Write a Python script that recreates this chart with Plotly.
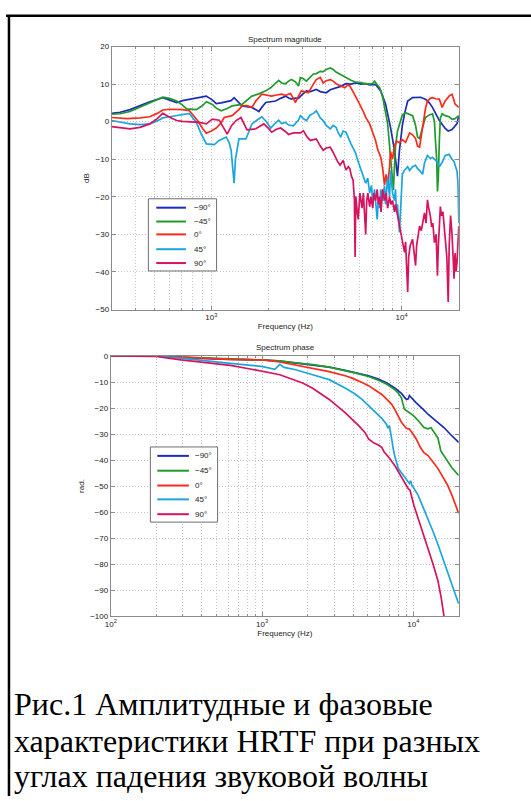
import math
import plotly.graph_objects as go

W, H = 531, 801

# ---------------- data ----------------
series_names = ["−90°", "−45°", "0°", "45°", "90°"]
series_colors = ["#1c2db5", "#1f9a2b", "#fb2b1c", "#1ba5df", "#d8125f"]

# Spectrum magnitude (Hz, dB)
mag_f_m90 = [300, 332, 374, 422, 475, 556, 604, 658, 706, 768, 835, 942, 1012, 1062, 1127, 1197, 1271, 1318, 1398, 1450,
             1540, 1635, 1715, 1778, 1843, 1933, 2052, 2180, 2315, 2456, 2550, 2640, 2770, 2873, 2975, 3162, 3315, 3564,
             3740, 4017, 4220, 4527, 4790, 5102, 5420, 5750, 6120, 6480, 6800, 7300, 7770, 8240, 8750, 9180, 9400, 9520,
             9750, 10100, 10370, 10770, 11430, 11850, 12590, 13360, 14000, 14540, 15800, 16960, 17590, 18420, 19110,
             19570, 20000]
mag_db_m90 = [2.2, 2.5, 3.2, 4.3, 5.3, 6.4, 5.8, 5.1, 5.6, 6.0, 6.2, 6.8, 5.8, 4.8, 5.0, 5.3, 5.6, 6.4, 5.2, 4.2,
              4.0, 3.8, 3.2, 2.7, 3.8, 5.1, 5.3, 5.5, 6.2, 6.8, 6.3, 6.0, 6.3, 6.2, 7.0, 8.2, 8.0, 8.6,
              8.0, 7.7, 8.5, 9.0, 9.4, 10.1, 10.0, 10.3, 10.0, 10.1, 9.8, 9.9, 8.2, 4.7, -1.5, -7.6, -13.5, -14.5,
              -7.6, -1.0, 2.1, 5.5, 6.4, 6.4, 6.5, 6.0, 5.0, 3.8, 0.3, -1.8, -2.5, -2.1, -1.1,
              -0.5, 1.6]

mag_f_m45 = [300, 332, 374, 422, 475, 556, 604, 658, 706, 741, 835, 900, 942, 1012, 1062, 1127, 1212, 1286, 1450, 1540,
             1635, 1778, 1933, 2052, 2180, 2260, 2343, 2456, 2550, 2640, 2770, 2873, 2940, 3050, 3162, 3315, 3440, 3564,
             3740, 3875, 4017, 4220, 4370, 4527, 4790, 5102, 5420, 5750, 6120, 6480, 6800, 7060, 7210, 7450, 7680, 7960,
             8140, 8450, 8750, 8970, 9060, 9180, 9290, 9520, 9860, 10100, 10500, 10900, 11430, 11850, 12140, 12440,
             12590, 12900, 13360, 14000, 14540, 14890, 15070, 15300, 15440, 15610, 15800, 16000, 16350, 16960, 17770,
             18420, 19110, 19570, 20000]
mag_db_m45 = [2.0, 2.1, 2.7, 3.8, 5.0, 6.5, 6.2, 5.5, 4.4, 3.4, 3.2, 4.3, 5.3, 4.6, 3.6, 2.9, 3.5, 4.2, 4.6, 5.6,
              6.8, 7.4, 8.2, 9.0, 10.1, 11.0, 10.3, 10.1, 10.8, 11.2, 10.6, 9.5, 11.7, 11.4, 10.8, 11.8, 12.7, 12.8,
              13.4, 13.3, 13.9, 14.3, 13.9, 13.2, 12.5, 11.7, 11.0, 10.5, 10.4, 10.1, 10.0, 10.2, 10.8, 9.8, 9.0, 6.5,
              3.8, -0.5, -9.4, -17.3, -18.2, -12.0, -6.8, -2.5, 0.3, 1.8, 2.4, 2.0, 1.6, -1.0, -4.1, -4.5,
              -3.2, -1.5, 1.1, 1.8, 2.1, 0.0, -5.0, -10.0, -18.6, -14.7, -5.0, 1.0, 2.1, 1.6, 1.3,
              0.6, 0.8, 1.2, 1.6]

mag_f_0 = [300, 332, 361, 422, 475, 520, 556, 604, 658, 706, 768, 846, 900, 942, 1000, 1062, 1127, 1169, 1286, 1398,
           1450, 1540, 1635, 1715, 1843, 1960, 2077, 2200, 2343, 2456, 2610, 2700, 2770, 2873, 2975, 3100, 3240, 3440,
           3564, 3740, 3875, 4017, 4220, 4370, 4527, 4790, 5040, 5200, 5350, 5560, 5750, 6000, 6270, 6500, 6800, 7060,
           7300, 7500, 7770, 7960, 8140, 8300, 8450, 8650, 8750, 8970, 9180, 9400, 9750, 10100, 10500, 11030, 11430,
           11850, 12140, 12440, 12900, 13360, 13680, 14180, 14540, 15070, 15800, 16350, 16960, 17770, 18420, 18870,
           19110, 19570, 20000]
mag_db_0 = [1.1, 1.0, 0.8, 1.0, 1.3, 2.2, 3.1, 3.3, 3.3, 3.2, 2.9, 0.3, -1.8, -3.1, -2.5, -1.7, -0.3, 1.1, 1.6, 3.2,
            4.2, 4.3, 3.8, 5.5, 7.3, 7.0, 6.8, 7.1, 7.3, 7.0, 7.5, 6.2, 5.1, 6.8, 8.2, 8.0, 7.7, 10.0,
            11.2, 11.8, 10.3, 10.9, 11.2, 10.8, 10.1, 9.5, 9.0, 9.7, 9.5, 8.0, 6.4, 4.8, 2.9, 1.0, -0.6, -2.8,
            -5.0, -7.5, -9.4, -12.5, -16.8, -14.0, -17.0, -12.0, -8.0, -10.0, -6.5, -5.2, -5.6, -4.8, -5.5, -3.0, -3.5,
            -4.5, -6.5, -6.8, -1.0, 3.5, 5.5, 6.2, 6.4, 6.1, 6.0, 3.8, 5.5, 6.8, 7.3, 5.8,
            4.7, 4.2, 3.8]

mag_f_45 = [300, 332, 374, 422, 475, 520, 556, 604, 658, 706, 768, 800, 835, 880, 942, 1037, 1100, 1197, 1240, 1271,
            1300, 1318, 1340, 1398, 1521, 1580, 1635, 1750, 1843, 1950, 2052, 2180, 2260, 2343, 2456, 2550, 2700, 2873,
            2940, 3050, 3162, 3315, 3440, 3564, 3740, 3875, 4017, 4220, 4370, 4527, 4650, 4790, 4930, 5102, 5250, 5420,
            5560, 5750, 5900, 6120, 6300, 6480, 6640, 6800, 6950, 7060, 7210, 7300, 7450, 7560, 7680, 7770, 7960, 8140,
            8240, 8450, 8650, 8750, 8970, 9180, 9290, 9400, 9520, 9750, 9860, 9980, 10100, 10370, 10770, 11030, 11430,
            11850, 12140, 12440, 12900, 13200, 13680, 14180, 14540, 14890, 15440, 15800, 16350, 16960, 17770, 18420,
            18870, 19110, 19570, 19800, 20000]
mag_db_45 = [0.3, -0.2, -0.6, -0.8, -0.6, 0.2, 1.0, 1.3, 1.6, 1.9, 2.2, 1.0, -0.2, -3.0, -5.9, -6.1, -5.0, -4.1, -5.5, -7.6,
             -12.0, -16.4, -10.0, -4.6, -4.6, -2.5, -0.6, 0.5, 1.3, 0.0, -1.7, -0.3, 0.4, -0.5, -0.2, -0.9, -1.1, 0.4,
             1.6, 0.8, 0.3, 1.8, 2.2, 2.9, 1.0, 0.3, -1.0, -1.9, -1.0, -1.5, -3.0, -4.1, -2.5, -2.8, -4.5, -5.9,
             -7.0, -8.5, -10.5, -12.9, -14.5, -16.4, -15.0, -19.0, -17.0, -22.0, -18.0, -21.0, -26.0, -20.0, -23.0, -18.0, -21.0, -17.0,
             -22.0, -15.0, -20.0, -13.0, -19.0, -21.0, -18.0, -24.0, -22.0, -29.5, -25.0, -18.0, -14.0, -12.9, -12.0, -13.0, -12.0,
             -11.6, -12.5, -13.0, -14.0, -11.0, -9.0, -9.8, -9.5, -10.0, -10.8, -12.0, -10.8, -9.0, -8.7, -10.0,
             -10.6, -11.5, -13.2, -16.5, -27.0]

mag_f_90 = [300, 332, 374, 422, 475, 520, 556, 604, 658, 706, 768, 866, 942, 1012, 1101, 1160, 1212, 1280, 1350, 1433,
            1480, 1540, 1715, 1888, 2000, 2077, 2200, 2315, 2450, 2550, 2700, 2873, 2950, 3050, 3162, 3315, 3440, 3564,
            3740, 3875, 4017, 4220, 4350, 4470, 4600, 4750, 4930, 5102, 5250, 5350, 5450, 5560, 5650, 5700, 5750, 5850,
            5920, 6040, 6120, 6200, 6300, 6400, 6480, 6560, 6650, 6800, 6900, 7060, 7150, 7300, 7450, 7560, 7680, 7800,
            7960, 8140, 8300, 8450, 8650, 8800, 8970, 9180, 9290, 9400, 9520, 9750, 9860, 10000, 10200, 10370, 10500,
            10770, 10900, 11100, 11430, 11600, 11850, 12000, 12290, 12440, 12700, 13000, 13200, 13450, 13680, 13900,
            14180, 14400, 14600, 14890, 15200, 15440, 15610, 16000, 16200, 16500, 16700, 16960, 17300, 17590, 17800,
            18100, 18420, 18700, 18870, 19110, 19350, 19570, 19800, 20000]
mag_db_90 = [-1.3, -1.6, -1.9, -1.5, -0.6, 0.8, 2.2, 1.2, 0.3, 0.1, 0.0, -0.2, -0.6, 0.7, 0.4, -1.5, -3.3, -1.0, 0.3, 1.1,
             -0.5, -2.2, -1.9, -0.6, -1.8, -2.8, -2.0, -1.7, -2.6, -3.4, -3.0, -3.1, -3.0, -2.4, -3.8, -5.0, -4.8, -4.6,
             -6.5, -7.6, -7.0, -6.8, -8.0, -9.4, -10.5, -11.6, -10.3, -12.9, -12.0, -12.5, -14.5, -15.5, -20.5, -36.0, -19.9, -24.0,
             -26.0, -19.0, -21.0, -23.0, -19.0, -24.0, -30.0, -21.0, -19.0, -22.6, -20.0, -23.0, -19.0, -21.0, -18.0, -22.0, -20.0, -24.0,
             -18.0, -21.0, -19.0, -23.0, -20.0, -22.0, -21.0, -24.0, -22.0, -23.4, -25.0, -27.8, -29.5, -31.3, -33.0, -34.8, -32.0,
             -45.3, -36.0, -33.0, -31.3, -35.0, -38.3, -33.0, -30.0, -27.8, -29.0, -26.0, -24.3, -27.0, -20.8, -23.0,
             -25.2, -28.0, -27.0, -32.2, -30.0, -41.0, -33.0, -22.6, -25.0, -24.0, -27.0, -31.3, -36.0, -48.0, -33.0,
             -25.0, -30.0, -37.0, -41.8, -35.0, -40.0, -37.4, -32.0, -27.8]

# Spectrum phase (Hz, rad.)
ph_f_m90 = [100, 150, 200, 291, 370, 479, 617, 785, 1013, 1310, 1670, 2160, 2780, 3540, 4100, 5060, 5880, 6640, 7540,
            8350, 9000, 9260, 9420, 9700, 10460, 11770, 12500, 14560, 15950, 17500, 19950]
ph_m90 = [0, 0, 0, -0.5, -0.9, -1.1, -1.3, -1.4, -1.5, -2.0, -2.8, -3.5, -4.3, -5.5, -6.3, -7.6, -8.9, -10.3, -12.3,
          -14.4, -16.7, -16.5, -15.2, -16.0, -18.0, -20.8, -22.4, -25.6, -27.5, -30.0, -33.2]

ph_f_m45 = [100, 200, 291, 370, 479, 617, 785, 1013, 1310, 1670, 2160, 2780, 3540, 4100, 5060, 5880, 6640, 7540, 7960,
            8350, 8550, 8730, 9420, 10100, 10760, 11770, 12500, 13100, 13800, 14560, 15200, 15950, 16860, 18000, 19950]
ph_m45 = [0, 0, -0.4, -0.7, -0.9, -1.1, -1.3, -1.5, -1.9, -2.6, -3.3, -4.3, -5.6, -6.5, -7.9, -9.3, -10.8, -12.9, -14.3,
          -16.1, -18.5, -20.5, -21.8, -23.1, -24.8, -27.5, -28.0, -27.6, -29.5, -31.6, -36.5, -38.5, -40.8, -43.0, -45.9]

ph_f_0 = [100, 200, 291, 370, 479, 617, 785, 1013, 1310, 1670, 2160, 2780, 3540, 3940, 4580, 5060, 5560, 6190, 6640,
          7200, 7540, 7960, 8350, 8730, 9000, 9420, 9700, 10460, 11100, 11770, 12500, 13500, 14560, 15500, 16860,
          18000, 19000, 19950]
ph_0 = [0, 0, -0.4, -0.8, -1.0, -1.3, -1.4, -1.5, -2.3, -3.4, -4.6, -6.0, -7.6, -8.5, -10.2, -11.4, -13.0, -14.8, -16.5,
        -18.6, -20.5, -23.1, -25.5, -26.9, -27.8, -28.1, -29.0, -31.9, -35.0, -37.2, -38.3, -40.8, -43.3, -46.0, -49.7,
        -53.5, -57.0, -60.5]

ph_f_45 = [100, 200, 291, 370, 479, 617, 785, 1013, 1215, 1260, 1310, 1400, 1670, 2160, 2780, 3540, 4100, 4580, 5060,
           5560, 6190, 6640, 6800, 6950, 7100, 7250, 7370, 7540, 7960, 8730, 9420, 9600, 9790, 10760, 11600, 12500,
           13500, 14560, 15600, 16860, 18300, 19950]
ph_45 = [0, 0, -0.8, -1.5, -2.2, -2.8, -3.4, -4.1, -5.1, -4.2, -3.2, -4.4, -5.3, -7.2, -9.1, -12.3, -14.5, -16.7, -19.0,
         -21.2, -24.0, -26.2, -27.8, -26.8, -29.5, -33.0, -35.7, -38.5, -43.3, -46.5, -49.0, -48.0, -49.7, -53.5, -58.0, -62.4,
         -67.5, -72.5, -77.5, -82.6, -88.5, -95.3]

ph_f_90 = [100, 150, 200, 291, 370, 479, 617, 785, 1013, 1310, 1854, 2160, 2780, 3540, 4370, 4800, 5060, 5500, 5880,
           6190, 6400, 6900, 7540, 8350, 9000, 9260, 9500, 9700, 10100, 10760, 11600, 12500, 13500, 14560, 15300, 15950]
ph_90 = [0, 0, -0.2, -1.5, -2.2, -2.8, -3.6, -4.7, -5.9, -7.2, -10.4, -12.4, -16.7, -21.8, -26.9, -29.5, -31.9, -33.5, -34.2,
         -35.1, -36.8, -39.0, -42.1, -46.5, -49.5, -51.0, -51.5, -54.0, -57.5, -62.4, -68.0, -73.8, -80.0, -86.5, -93.0, -100.0]

mag_series = [(mag_f_m90, mag_db_m90), (mag_f_m45, mag_db_m45), (mag_f_0, mag_db_0),
              (mag_f_45, mag_db_45), (mag_f_90, mag_db_90)]
ph_series = [(ph_f_m90, ph_m90), (ph_f_m45, ph_m45), (ph_f_0, ph_0), (ph_f_45, ph_45), (ph_f_90, ph_90)]

mag_yticks = [-50, -40, -30, -20, -10, 0, 10, 20]
ph_yticks = [-100, -90, -80, -70, -60, -50, -40, -30, -20, -10, 0]
mag_xticks = [1000, 10000]
mag_xticktext = ["10<sup>3</sup>", "10<sup>4</sup>"]
ph_xticks = [100, 1000, 10000]
ph_xticktext = ["10<sup>2</sup>", "10<sup>3</sup>", "10<sup>4</sup>"]
mag_minor = [400, 500, 600, 700, 800, 900, 2000, 3000, 4000, 5000, 6000, 7000, 8000, 9000]
ph_minor = [200, 300, 400, 500, 600, 700, 800, 900, 2000, 3000, 4000, 5000, 6000, 7000, 8000, 9000]

caption_lines = ["Рис.1 Амплитудные и фазовые",
                 "характеристики HRTF при разных",
                 "углах падения звуковой волны"]


# ---------------- figure ----------------
def px(x):
    return x / W


def py(y):
    return 1 - y / H


fig = go.Figure()
for i, (f, v) in enumerate(mag_series):
    fig.add_trace(go.Scatter(x=f, y=v, mode="lines", name=series_names[i], showlegend=False,
                             line=dict(color=series_colors[i], width=1.7), xaxis="x", yaxis="y"))
for i, (f, v) in enumerate(ph_series):
    fig.add_trace(go.Scatter(x=f, y=v, mode="lines", name=series_names[i], showlegend=False,
                             line=dict(color=series_colors[i], width=1.7), xaxis="x2", yaxis="y2"))

AX = "#8a8a8a"
GRID = "#c4c4c4"
DOT = "1px,2px"
TF = dict(family="Liberation Sans, Arial", size=8, color="#222")
common = dict(showline=True, linecolor=AX, linewidth=1, mirror="allticks", ticks="inside", ticklen=4,
              tickcolor=AX, showgrid=True, gridcolor=GRID, griddash=DOT, gridwidth=1, zeroline=False,
              tickfont=TF)

fig.update_layout(
    width=W, height=H, autosize=False,
    margin=dict(l=0, r=0, t=0, b=0),
    paper_bgcolor="white", plot_bgcolor="white",
    xaxis=dict(type="log", range=[math.log10(300), math.log10(20000)], domain=[px(107), px(458)], anchor="y",
               tickvals=mag_xticks, ticktext=mag_xticktext,
               minor=dict(tickvals=mag_minor, ticks="inside", ticklen=2, tickcolor=AX, showgrid=True,
                          gridcolor=GRID, griddash=DOT),
               title=dict(text="Frequency (Hz)", font=TF, standoff=2), **common),
    yaxis=dict(range=[-50, 20], domain=[py(309), py(43)], anchor="x", tickvals=mag_yticks,
               title=dict(text="dB", font=TF, standoff=4), **common),
    xaxis2=dict(type="log", range=[2, math.log10(20000)], domain=[px(106), px(458)], anchor="y2",
                tickvals=ph_xticks, ticktext=ph_xticktext,
                minor=dict(tickvals=ph_minor, ticks="inside", ticklen=2, tickcolor=AX, showgrid=True,
                           gridcolor=GRID, griddash=DOT),
                title=dict(text="Frequency (Hz)", font=TF, standoff=2), **common),
    yaxis2=dict(range=[-100, 0], domain=[py(619), py(356)], anchor="x2", tickvals=ph_yticks,
                title=dict(text="rad.", font=TF, standoff=4), **common),
)

annotations = [
    dict(text="Spectrum magnitude", x=px(282.5), y=py(36), xref="paper", yref="paper", showarrow=False,
         font=TF, xanchor="center", yanchor="middle"),
    dict(text="Spectrum phase", x=px(282.5), y=py(347), xref="paper", yref="paper", showarrow=False,
         font=TF, xanchor="center", yanchor="middle"),
]
shapes = [
    # outer frame (top and left edges)
    dict(type="line", xref="paper", yref="paper", x0=0, x1=1, y0=py(12), y1=py(12),
         line=dict(color="black", width=2.5)),
    dict(type="line", xref="paper", yref="paper", x0=px(3), x1=px(3), y0=py(12), y1=0,
         line=dict(color="black", width=2.5)),
]

# legends (drawn as boxes with sample lines)
legend_specs = [
    dict(box=(144, 213, 197, 270), rows=[206, 220, 233, 248, 262], line=(152, 182), text=188),
    dict(box=(146, 214, 448, 524), rows=[457, 472, 487, 501, 516], line=(153, 185), text=189),
]
for spec in legend_specs:
    x0, x1, y0, y1 = spec["box"]
    shapes.append(dict(type="rect", xref="paper", yref="paper", x0=px(x0), x1=px(x1), y0=py(y1), y1=py(y0),
                       line=dict(color="#6e6e6e", width=1), fillcolor="white", layer="above"))
    for i, ry in enumerate(spec["rows"]):
        shapes.append(dict(type="line", xref="paper", yref="paper", x0=px(spec["line"][0]), x1=px(spec["line"][1]),
                           y0=py(ry), y1=py(ry), line=dict(color=series_colors[i], width=2), layer="above"))
        annotations.append(dict(text=series_names[i], x=px(spec["text"]), y=py(ry), xref="paper", yref="paper",
                                showarrow=False, font=TF, xanchor="left", yanchor="middle"))

caption_y = [708, 745, 781]
for line, cy in zip(caption_lines, caption_y):
    annotations.append(dict(text=line, x=px(6), y=py(cy), xref="paper", yref="paper", showarrow=False,
                            xanchor="left", yanchor="middle",
                            font=dict(family="Liberation Serif, Times New Roman, serif", size=32, color="black")))

fig.update_layout(annotations=annotations, shapes=shapes)
fig.write_html("out.html", config={"displayModeBar": False},
               post_script="document.body.style.margin='0px';document.body.style.overflow='hidden';")
